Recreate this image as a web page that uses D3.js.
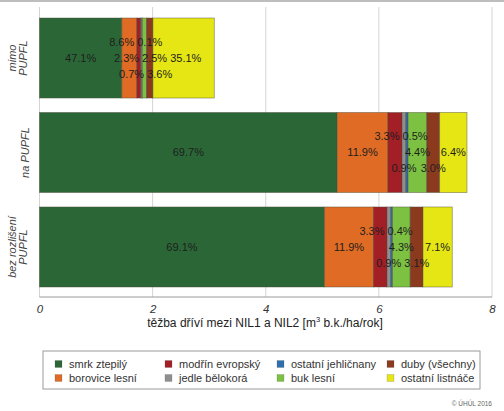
<!DOCTYPE html>
<html><head><meta charset="utf-8">
<script src="https://cdn.jsdelivr.net/npm/d3@7"></script>
<style>
html,body{margin:0;padding:0;background:#fff;}
svg{display:block;font-family:"Liberation Sans",Arial,sans-serif;}
</style></head>
<body>
<svg id="chart" width="504" height="411"></svg>
<script>
// ---- data ----
const categories = [["mimo","PUPFL"],["na PUPFL"],["bez rozlišení","PUPFL"]];
const categoryKeys = ["mimo PUPFL","na PUPFL","bez rozlišení PUPFL"];
const totals = [3.09, 7.55, 7.29]; // m3 b.k./ha/rok
const species = ["smrk ztepilý","borovice lesní","modřín evropský","jedle bělokorá",
                 "ostatní jehličnany","buk lesní","duby (všechny)","ostatní listnáče"];
const colors = ["#2b6736","#e06b24","#a21f25","#8f8f8f","#2f6fad","#7dc142","#8b3a1e","#e6e615"];
// share of each species per category (%)
const shares = [
  [47.1, 8.6, 2.3, 0.7, 0.1, 2.5, 3.6, 35.1],
  [69.7, 11.9, 3.3, 0.9, 0.5, 4.4, 3.0, 6.4],
  [69.1, 11.9, 3.3, 0.9, 0.4, 4.3, 3.1, 7.1]
];
// label row per segment (categorical: top / mid / bot)
const labelRows = [
  ["mid","top","mid","bot","top","mid","bot","mid"],
  ["mid","mid","top","bot","top","mid","bot","mid"],
  ["mid","mid","top","bot","top","mid","bot","mid"]
];
const xTicks = [0,2,4,6,8];

// ---- chart ----
const svg = d3.select("#chart");
const x = d3.scaleLinear().domain([0,8]).range([39.5,492]);
const y = d3.scaleBand().domain(categoryKeys).range([18,287]).paddingInner(0.153).paddingOuter(0);
const panelTop = 7, panelBottom = 297;

// top frame line
svg.append("line").attr("x1",0).attr("x2",504).attr("y1",1).attr("y2",1)
  .attr("stroke","#bdbdbd").attr("stroke-width",2);

// grid
svg.append("g").selectAll("line").data(xTicks).join("line")
  .attr("x1",d=>x(d)).attr("x2",d=>x(d)).attr("y1",panelTop).attr("y2",panelBottom)
  .attr("stroke","#d4d4d4").attr("stroke-width",1);

// stacked data
const rows = categoryKeys.map((k,i)=>{
  let acc = 0;
  return shares[i].map((p,j)=>{
    const v = totals[i]*p/100;
    const seg = {cat:k, ci:i, sp:j, pct:p, x0:acc, x1:acc+v, row:labelRows[i][j]};
    acc += v;
    return seg;
  });
});
const segs = rows.flat();

svg.append("g").selectAll("rect").data(segs).join("rect")
  .attr("x",d=>x(d.x0)).attr("width",d=>Math.max(0,x(d.x1)-x(d.x0)))
  .attr("y",d=>y(d.cat)).attr("height",y.bandwidth())
  .attr("fill",d=>colors[d.sp])
  .attr("stroke","#4a4a3a").attr("stroke-opacity",0.55).attr("stroke-width",0.8);

const rowOff = {top:-16, mid:0, bot:16};
const labels = svg.append("g").selectAll("text").data(segs).join("text")
  .attr("x",d=>x((d.x0+d.x1)/2))
  .attr("y",d=>y(d.cat)+y.bandwidth()/2+rowOff[d.row])
  .attr("dy","0.35em").attr("text-anchor","middle")
  .attr("font-size",11).attr("fill","#1e1e1e")
  .text(d=>d.pct.toFixed(1)+"%");

// simple horizontal repel of labels sharing a row within a bar
labels.each(function(d){ d.w = this.getComputedTextLength(); d.px = x((d.x0+d.x1)/2); });
const groups = d3.group(segs, d=>d.ci, d=>d.row);
groups.forEach(byRow=>byRow.forEach(list=>{
  list.sort((a,b)=>a.px-b.px);
  for(let it=0; it<100; it++){
    let moved=false;
    for(let k=0;k<list.length-1;k++){
      const a=list[k], b=list[k+1];
      const need=(a.w+b.w)/2+3, gap=b.px-a.px;
      if(gap<need){ const s=(need-gap)/2; a.px-=s; b.px+=s; moved=true; }
    }
    if(!moved) break;
  }
}));
labels.attr("x",d=>d.px);

// x axis
svg.append("line").attr("x1",x(0)).attr("x2",x(8)).attr("y1",panelBottom).attr("y2",panelBottom)
  .attr("stroke","#9a9a9a").attr("stroke-width",1);
const xAxis = svg.append("g").attr("transform",`translate(0,${panelBottom})`)
  .call(d3.axisBottom(x).tickValues(xTicks).tickSize(0).tickFormat(d3.format("d")));
xAxis.select(".domain").remove();
xAxis.selectAll("text").attr("y",16).attr("dy",0).attr("font-size",11.5).attr("font-style","italic").attr("fill","#333")
  .attr("font-family","Liberation Sans, Arial, sans-serif");

// x title
const title = svg.append("text").attr("x",265).attr("y",326.5).attr("text-anchor","middle")
  .attr("font-size",12).attr("fill","#222");
title.append("tspan").text("těžba dříví mezi NIL1 a NIL2 [m");
title.append("tspan").attr("font-size",7.5).attr("dy",-5).text("3");
title.append("tspan").attr("dy",5).text(" b.k./ha/rok]");

// y labels
const yl = svg.append("g");
categoryKeys.forEach((k,i)=>{
  const lines = categories[i];
  const cy = y(k)+y.bandwidth()/2;
  const t = yl.append("text").attr("transform",`translate(0,${cy}) rotate(-90)`)
    .attr("text-anchor","middle").attr("font-size",11).attr("font-style","italic").attr("fill","#444");
  const n = lines.length;
  lines.forEach((l,li)=>{
    t.append("tspan").attr("x",0).attr("y", n===1 ? 29 : 16 + li*11).text(l);
  });
});

// legend
svg.append("rect").attr("x",43).attr("y",351).attr("width",437).attr("height",38)
  .attr("fill","#fff").attr("stroke","#9a9a9a").attr("stroke-width",1);
const colX = [55,165,277,387], rowY = [364,378];
const leg = svg.append("g");
species.forEach((s,j)=>{
  const c = Math.floor(j/2), r = j%2;
  leg.append("rect").attr("x",colX[c]).attr("y",rowY[r]-3.5).attr("width",7).attr("height",7)
    .attr("fill",colors[j]).attr("stroke","#555").attr("stroke-opacity",0.4).attr("stroke-width",0.5);
  leg.append("text").attr("x",colX[c]+14).attr("y",rowY[r]).attr("dy","0.35em")
    .attr("font-size",11).attr("fill","#333").text(s);
});

svg.append("text").attr("x",492).attr("y",406).attr("text-anchor","end")
  .attr("font-size",6.5).attr("fill","#666").text("© ÚHÚL 2016");
</script>
</body></html>
